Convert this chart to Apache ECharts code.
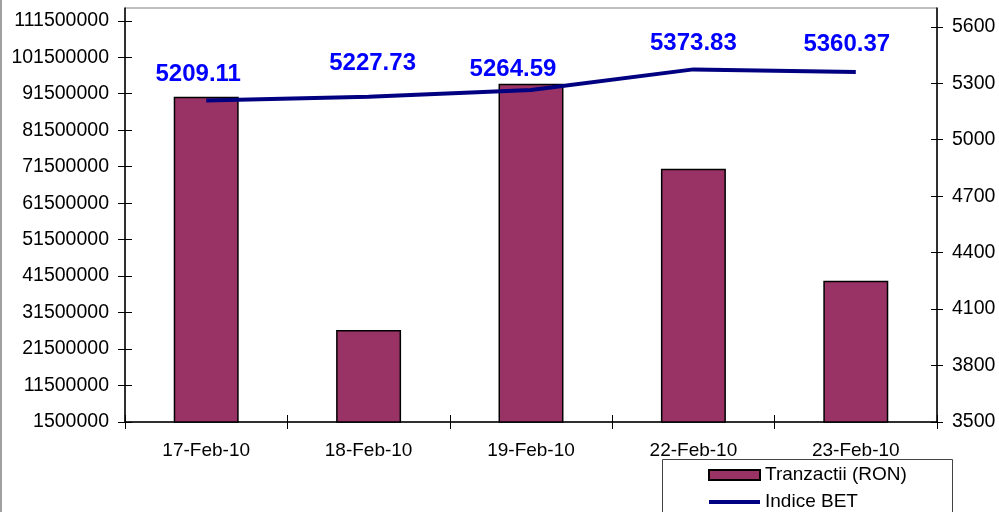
<!DOCTYPE html>
<html>
<head>
<meta charset="utf-8">
<script src="https://cdn.jsdelivr.net/npm/echarts@6/dist/echarts.min.js"></script>
<style>html,body{margin:0;padding:0;background:#fff}#c{width:999px;height:512px}</style>
</head>
<body>
<div id="c"></div>
<script>
const categories = ['17-Feb-10', '18-Feb-10', '19-Feb-10', '22-Feb-10', '23-Feb-10'];
const tranzactii = [90700000, 26700000, 94200000, 70900000, 40200000];
const indiceBET = [5209.11, 5227.73, 5264.59, 5373.83, 5360.37];
const leftTicks = [1500000, 11500000, 21500000, 31500000, 41500000, 51500000, 61500000, 71500000, 81500000, 91500000, 101500000, 111500000];
const rightTicks = [3500, 3800, 4100, 4400, 4700, 5000, 5300, 5600];
const labelOffsets = [[-8, -14], [4, -21], [-18, -8], [0, -14], [-9, -15]];

const FONT = 'Liberation Sans, Arial, sans-serif';
const chart = echarts.init(document.getElementById('c'), null, {renderer: 'canvas'});

const axisLineStyle = {color: '#000', width: 1.5};
const tickStyle = {color: '#000', width: 1};
const plain = v => String(Math.round(v));

const option = {
  animation: false,
  backgroundColor: '#fff',
  textStyle: {fontFamily: FONT},
  grid: {left: 125, right: 62, top: 8, bottom: 90, show: true, borderColor: '#808080', borderWidth: 1, backgroundColor: 'transparent'},
  legend: {
    orient: 'vertical',
    left: 707,
    top: 465,
    padding: 0,
    itemWidth: 51,
    itemHeight: 10,
    itemGap: 7,
    height: 60,
    textStyle: {fontFamily: FONT, fontSize: 19, color: '#000', lineHeight: 20},
    data: [
      {name: 'Tranzactii (RON)', icon: 'rect', itemStyle: {borderColor: '#000', borderWidth: 2}},
      {name: 'Indice BET', itemStyle: {color: 'rgba(0,0,0,0)', borderWidth: 0, opacity: 0}, lineStyle: {width: 4, color: '#000080'}}
    ]
  },
  xAxis: [
    {
      type: 'category', data: categories, position: 'bottom', boundaryGap: true,
      axisLine: {show: true, lineStyle: axisLineStyle},
      axisTick: {show: true, length: 7, alignWithLabel: false, lineStyle: tickStyle},
      axisLabel: {fontFamily: FONT, fontSize: 19, color: '#000', margin: 19, interval: 0},
      splitLine: {show: false}
    },
    {
      type: 'category', data: categories, position: 'bottom', boundaryGap: true,
      axisLine: {show: false},
      axisTick: {show: true, inside: true, length: 7, lineStyle: tickStyle},
      axisLabel: {show: false},
      splitLine: {show: false}
    }
  ],
  yAxis: [
    {
      type: 'value', position: 'left', min: 1500000, max: 115000000,
      axisLine: {show: true, lineStyle: axisLineStyle},
      axisTick: {show: true, length: 7, customValues: leftTicks, lineStyle: tickStyle},
      axisLabel: {fontFamily: FONT, fontSize: 19.5, color: '#000', margin: 16, customValues: leftTicks, formatter: plain},
      splitLine: {show: false}
    },
    {
      type: 'value', position: 'right', min: 3500, max: 5700,
      axisLine: {show: true, lineStyle: axisLineStyle},
      axisTick: {show: true, length: 6, customValues: rightTicks, lineStyle: tickStyle},
      axisLabel: {fontFamily: FONT, fontSize: 19.5, color: '#000', margin: 15, customValues: rightTicks, formatter: plain},
      splitLine: {show: false}
    },
    {
      type: 'value', position: 'left', min: 1500000, max: 115000000,
      axisLine: {show: false},
      axisTick: {show: true, inside: true, length: 7, customValues: leftTicks, lineStyle: tickStyle},
      axisLabel: {show: false},
      splitLine: {show: false}
    },
    {
      type: 'value', position: 'right', min: 3500, max: 5700,
      axisLine: {show: false},
      axisTick: {show: true, inside: true, length: 6, customValues: rightTicks, lineStyle: tickStyle},
      axisLabel: {show: false},
      splitLine: {show: false}
    }
  ],
  series: [
    {
      name: 'Tranzactii (RON)',
      type: 'bar',
      xAxisIndex: 0, yAxisIndex: 0,
      barWidth: '40%',
      data: tranzactii,
      itemStyle: {color: '#993366', borderColor: '#000', borderWidth: 1.5}
    },
    {
      name: 'Indice BET',
      type: 'line',
      xAxisIndex: 0, yAxisIndex: 1,
      symbol: 'none',
      data: indiceBET,
      lineStyle: {color: '#000080', width: 4},
      itemStyle: {color: '#000080'},
      z: 3
    },
    {
      name: 'BET labels',
      type: 'scatter',
      xAxisIndex: 0, yAxisIndex: 1,
      symbol: 'circle',
      symbolSize: 1,
      silent: true,
      itemStyle: {color: 'rgba(0,0,0,0)', opacity: 1},
      data: indiceBET.map((v, i) => ({
        value: v,
        label: {offset: labelOffsets[i]}
      })),
      label: {
        show: true, position: 'top', distance: 0,
        fontFamily: FONT, fontSize: 24, fontWeight: 'bold', color: '#0000ff',
        formatter: p => Number(p.value).toFixed(2)
      },
      z: 4
    }
  ],
  graphic: [
    {type: 'line', shape: {x1: 1, y1: 0, x2: 1, y2: 512}, style: {stroke: '#a0a0a0', lineWidth: 2}},
    {type: 'rect', shape: {x: 662.5, y: 459.5, width: 290, height: 80}, style: {fill: 'none', stroke: '#444', lineWidth: 1}, z: 10}
  ]
};
chart.setOption(option);
</script>
</body>
</html>
